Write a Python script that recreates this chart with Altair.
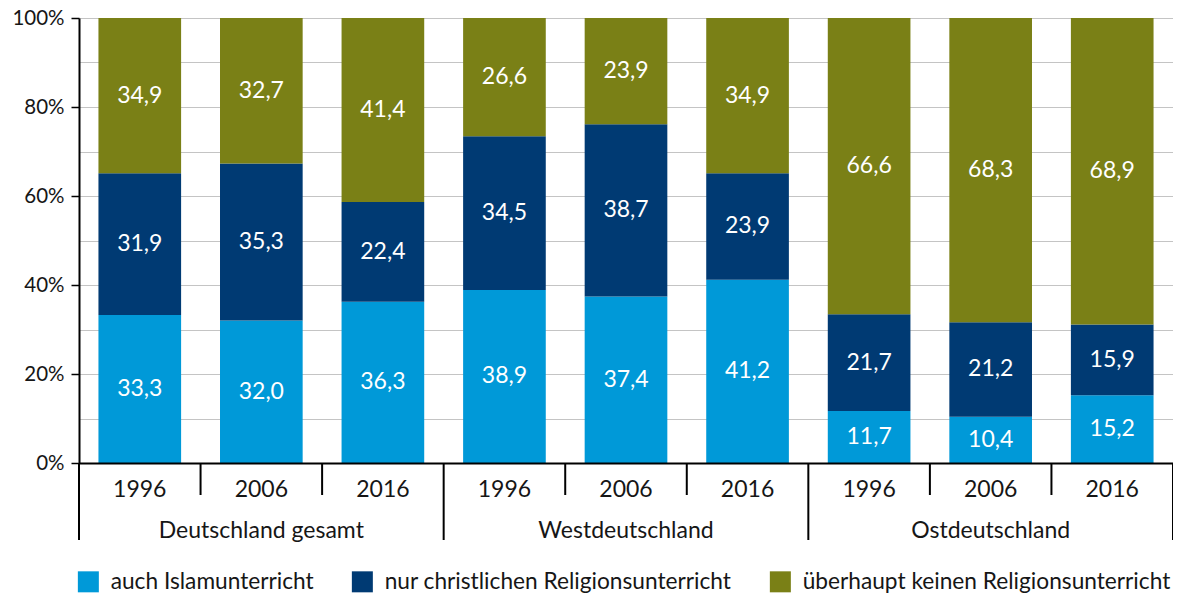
import altair as alt
import pandas as pd

groups = ["Deutschland gesamt", "Westdeutschland", "Ostdeutschland"]
years = ["1996", "2006", "2016"]
series = ["auch Islamunterricht",
          "nur christlichen Religionsunterricht",
          "überhaupt keinen Religionsunterricht"]
colors = ["#0099d8", "#003a73", "#7a8016"]
islam = [33.3, 32.0, 36.3, 38.9, 37.4, 41.2, 11.7, 10.4, 15.2]
christ = [31.9, 35.3, 22.4, 34.5, 38.7, 23.9, 21.7, 21.2, 15.9]
keine = [34.9, 32.7, 41.4, 26.6, 23.9, 34.9, 66.6, 68.3, 68.9]
grid_vals = [0.0, 0.1, 0.2, 0.3, 0.4, 0.5, 0.6, 0.7, 0.8, 0.9, 1.0]

keys = [f"{g}|{y}" for g in groups for y in years]
rows = []
for i, k in enumerate(keys):
    for s_i, (s, vals) in enumerate(zip(series, [islam, christ, keine])):
        rows.append({"key": k, "series": s, "ord": s_i, "value": vals[i]})
df = pd.DataFrame(rows)

W, H = 1094, 445
FONT = "Lato"
TXT = "#161616"

xenc = alt.X(
    "key:N", sort=keys,
    scale=alt.Scale(paddingInner=0, paddingOuter=0),
    axis=alt.Axis(title=None, labelExpr="split(datum.label, '|')[1]", ticks=False,
                  domainColor="black", domainWidth=2, labelFontSize=23, labelColor=TXT,
                  labelBaseline="alphabetic", labelPadding=33, labelAngle=0,
                  labelFont=FONT, zindex=1),
)

yaxis = alt.Axis(
    title=None, values=grid_vals, grid=True, gridColor="#c4c4c4", gridWidth=1,
    labelExpr="round(datum.value*100) % 20 == 0 ? format(datum.value, '.0%') : ''",
    tickColor={"condition": {"test": "round(datum.value*100) % 20 != 0", "value": "transparent"},
               "value": "black"},
    tickSize=8, tickWidth=1.5, domainColor="black", domainWidth=2,
    labelFontSize=20.5, labelColor=TXT, labelPadding=7, labelFont=FONT,
)

base = alt.Chart(df).transform_stack(
    stack="value", as_=["y0", "y1"], groupby=["key"],
    sort=[alt.SortField("ord")], offset="normalize"
).transform_calculate(
    ymid="(datum.y0 + datum.y1) / 2",
    lbl="replace(format(datum.value, '.1f'), '.', ',')",
)

bars = base.mark_bar(width={"band": 0.68}).encode(
    x=xenc,
    y=alt.Y("y0:Q", scale=alt.Scale(domain=[0, 1]), axis=yaxis),
    y2="y1:Q",
    color=alt.Color("series:N", scale=alt.Scale(domain=series, range=colors),
                    legend=alt.Legend(title=None, orient="none", legendX=-2, legendY=552,
                                      direction="horizontal", symbolType="square",
                                      symbolSize=441, symbolStrokeWidth=0,
                                      labelFontSize=22.7, labelFont=FONT, labelColor=TXT,
                                      labelLimit=0, columnPadding=37, labelOffset=11)),
)

text = base.mark_text(color="white", fontSize=23, font=FONT).encode(
    x=alt.X("key:N", sort=keys),
    y="ymid:Q",
    text="lbl:N",
)

short_keys = [k for i, k in enumerate(keys) if i % 3 != 0]
long_keys = keys[0::3]

short = alt.Chart(pd.DataFrame({"key": short_keys})).mark_rule(color="black", strokeWidth=2).encode(
    x=alt.X("key:N", sort=keys, bandPosition=0), y=alt.value(H), y2=alt.value(H + 32))
long = alt.Chart(pd.DataFrame({"key": long_keys})).mark_rule(color="black", strokeWidth=2).encode(
    x=alt.X("key:N", sort=keys, bandPosition=0), y=alt.value(H), y2=alt.value(H + 77))
end = alt.Chart(pd.DataFrame({"key": [keys[-1]]})).mark_rule(color="black", strokeWidth=2).encode(
    x=alt.X("key:N", sort=keys, bandPosition=1), y=alt.value(H), y2=alt.value(H + 77))

glab = alt.Chart(pd.DataFrame({"key": keys[1::3], "group": groups})).mark_text(
    fontSize=23, font=FONT, baseline="alphabetic", color=TXT).encode(
    x=alt.X("key:N", sort=keys), y=alt.value(H + 75), text="group:N")

chart = alt.layer(bars, text, short, long, end, glab).properties(
    width=W, height=H, autosize="none",
    padding={"left": 71, "top": 10, "right": 0, "bottom": 131},
).configure_view(stroke=None)

chart.save("out.html", embed_options={"renderer": "svg", "actions": False})
